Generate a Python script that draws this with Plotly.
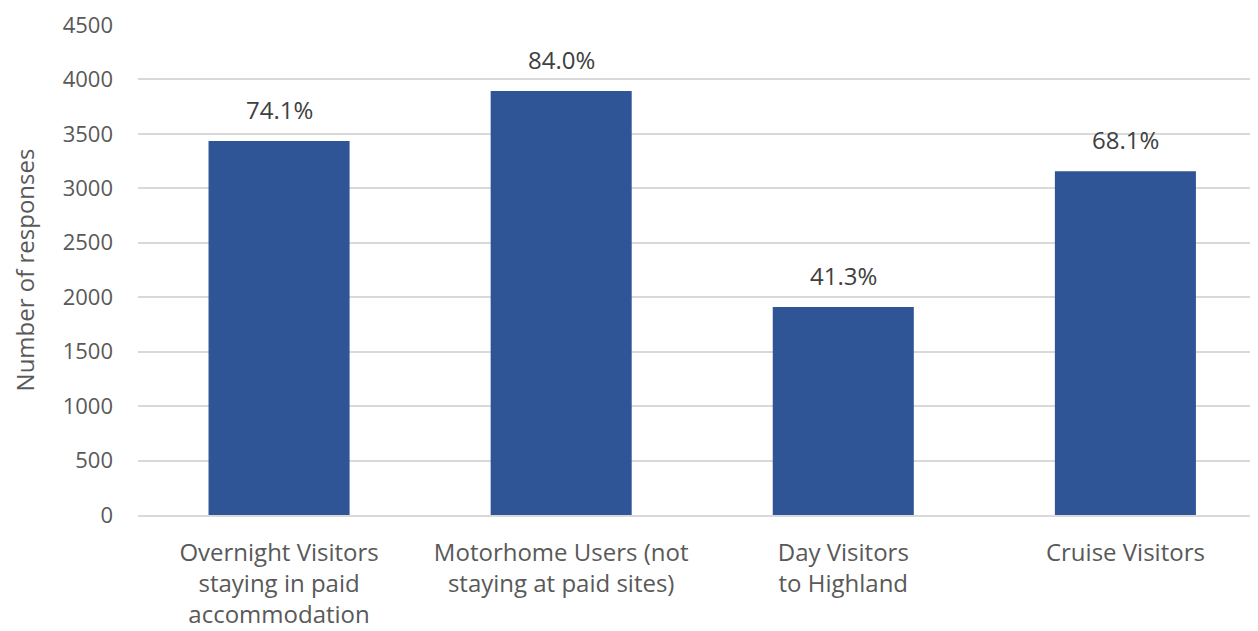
import plotly.graph_objects as go

categories = ["Overnight Visitors<br>staying in paid<br>accommodation",
              "Motorhome Users (not<br>staying at paid sites)",
              "Day Visitors<br>to Highland",
              "Cruise Visitors"]
responses = [3435, 3894, 1910, 3157]
pct_labels = ["74.1%", "84.0%", "41.3%", "68.1%"]
y_ticks = [0, 500, 1000, 1500, 2000, 2500, 3000, 3500, 4000, 4500]

FONT = "Open Sans"
fig = go.Figure()
fig.add_trace(go.Bar(x=categories, y=responses, marker_color="#2F5597",
                     marker_line_width=0, hoverinfo="skip"))

for c, v, t in zip(categories, responses, pct_labels):
    fig.add_annotation(x=c, y=v, text=t, showarrow=False, yanchor="bottom",
                       yshift=13, font=dict(family=FONT, size=24, color="#404040"))

fig.update_layout(
    width=1250, height=623,
    margin=dict(l=130, r=0, t=17, b=116),
    plot_bgcolor="white", paper_bgcolor="white",
    bargap=0.5, showlegend=False,
    font=dict(family=FONT, color="#595959", size=22),
)
fig.update_xaxes(range=[-0.5, 3.47], showline=True, linecolor="#d9d9d9", linewidth=1.5,
                 ticks="", tickfont=dict(size=24, color="#595959"), ticklabelstandoff=15)
fig.update_yaxes(range=[0, 4500], tickvals=y_ticks, showgrid=True, gridcolor="#d9d9d9",
                 gridwidth=1.5, zeroline=False, ticks="", ticklabelstandoff=24,
                 tickfont=dict(size=22, color="#595959"),
                 title=dict(text="Number of responses", standoff=22,
                            font=dict(size=24, color="#595959")))

fig.write_html("out.html")
